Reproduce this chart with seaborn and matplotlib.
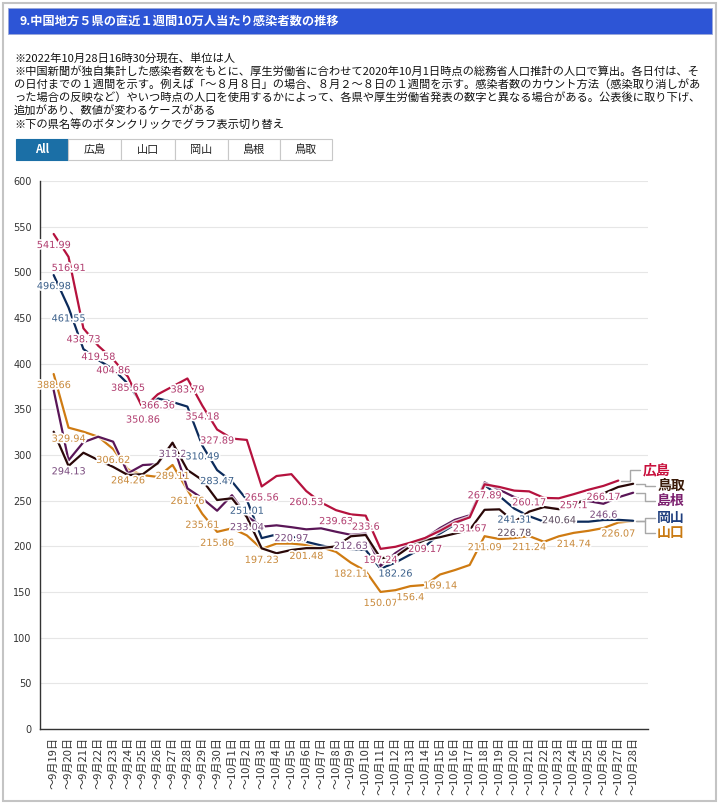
import numpy as np
import pandas as pd
import matplotlib
matplotlib.use("Agg")
import matplotlib.pyplot as plt
import matplotlib.patheffects as pe
from matplotlib.patches import Rectangle
from matplotlib.lines import Line2D
from matplotlib.transforms import IdentityTransform
import seaborn as sns

# ---------------- data ----------------
dates = ["～9月19日", "～9月20日", "～9月21日", "～9月22日", "～9月23日", "～9月24日",
         "～9月25日", "～9月26日", "～9月27日", "～9月28日", "～9月29日", "～9月30日",
         "～10月1日", "～10月2日", "～10月3日", "～10月4日", "～10月5日", "～10月6日",
         "～10月7日", "～10月8日", "～10月9日", "～10月10日", "～10月11日", "～10月12日",
         "～10月13日", "～10月14日", "～10月15日", "～10月16日", "～10月17日", "～10月18日",
         "～10月19日", "～10月20日", "～10月21日", "～10月22日", "～10月23日", "～10月24日",
         "～10月25日", "～10月26日", "～10月27日", "～10月28日"]

hiroshima = [541.99, 516.91, 438.73, 419.58, 404.86, 385.65, 350.86, 366.36, 375.0, 383.79,
             354.18, 327.89, 318.0, 316.5, 265.56, 277.0, 279.0, 260.53, 248.0, 239.63,
             235.0, 233.6, 197.24, 199.5, 204.0, 209.17, 217.0, 226.0, 231.67, 267.89,
             265.0, 261.0, 260.17, 253.0, 252.6, 257.1, 262.0, 266.17, 272.0, np.nan]
tottori = [325.5, 288.0, 302.5, 294.5, 287.0, 278.0, 279.0, 291.0, 313.5, 283.6,
           272.6, 250.7, 252.6, 232.0, 197.8, 192.4, 196.0, 198.0, 198.0, 200.0,
           211.0, 212.4, 187.0, 188.6, 200.0, 207.0, 210.0, 214.0, 218.0, 240.0,
           240.5, 226.78, 238.0, 243.0, 240.64, 246.0, 252.0, 258.0, 265.0, 268.5]
shimane = [371.0, 294.13, 314.0, 320.0, 314.6, 280.0, 289.0, 290.0, 313.2, 263.5,
           252.6, 239.0, 256.0, 233.04, 221.5, 223.0, 220.97, 218.6, 219.7, 216.0,
           212.63, 214.0, 178.5, 192.6, 203.0, 209.0, 220.0, 229.0, 234.0, 270.0,
           262.0, 254.0, 247.0, 243.0, 241.0, 249.0, 249.5, 246.6, 253.7, 258.7]
okayama = [496.98, 461.55, 416.0, 404.0, 394.0, 378.0, 354.0, 362.0, 358.0, 353.0,
           310.49, 283.47, 271.0, 251.01, 209.0, 213.0, 211.0, 205.0, 201.0, 198.0,
           197.0, 196.0, 175.5, 182.26, 191.0, 200.0, 214.0, 224.0, 233.0, 267.0,
           255.0, 241.31, 233.0, 227.0, 227.0, 227.0, 227.0, 228.8, 229.0, 228.0]
yamaguchi = [388.66, 329.94, 325.5, 320.0, 306.62, 284.26, 278.0, 276.0, 289.11, 261.76,
             235.61, 215.86, 219.7, 212.0, 197.23, 203.0, 203.0, 201.48, 199.0, 194.0,
             182.11, 173.0, 150.07, 152.0, 156.4, 157.7, 169.14, 174.0, 179.6, 211.09,
             208.0, 209.0, 211.24, 205.0, 211.0, 214.74, 217.0, 220.0, 226.07, 227.5]

prefs = ["広島", "鳥取", "島根", "岡山", "山口"]
series = {"広島": hiroshima, "鳥取": tottori, "島根": shimane, "岡山": okayama, "山口": yamaguchi}
label_idx = {
    "広島": [0, 1, 2, 3, 4, 5, 6, 7, 9, 10, 11, 14, 17, 19, 21, 22, 25, 28, 29, 32, 35, 37],
    "岡山": [0, 1, 10, 11, 13, 23, 31],
    "山口": [0, 1, 4, 5, 8, 9, 10, 11, 14, 17, 20, 22, 24, 26, 29, 32, 35, 38],
    "島根": [1, 8, 13, 16, 20, 37],
    "鳥取": [31, 34],
}
line_colors = {"広島": "#b5123e", "鳥取": "#2a0808", "島根": "#5a1657",
               "岡山": "#0c2b5b", "山口": "#cf7b12"}
label_colors = {"広島": "#b03c6e", "鳥取": "#5b4a5e", "島根": "#7a4b7e",
                "岡山": "#3a5f8a", "山口": "#c98a3c"}
name_colors = {"広島": "#c8103c", "鳥取": "#3a1a08", "島根": "#7b1f6e",
               "岡山": "#1f3f7f", "山口": "#c97a12"}
name_y = {"広島": 283.6, "鳥取": 266.0, "島根": 249.6, "岡山": 231.0, "山口": 214.6}

title = "9.中国地方５県の直近１週間10万人当たり感染者数の推移"
notes = ["※2022年10月28日16時30分現在、単位は人",
         "※中国新聞が独自集計した感染者数をもとに、厚生労働省に合わせて2020年10月1日時点の総務省人口推計の人口で算出。各日付は、そ",
         "の日付までの１週間を示す。例えば「～８月８日」の場合、８月２～８日の１週間を示す。感染者数のカウント方法（感染取り消しがあ",
         "った場合の反映など）やいつ時点の人口を使用するかによって、各県や厚生労働省発表の数字と異なる場合がある。公表後に取り下げ、",
         "追加があり、数値が変わるケースがある",
         "※下の県名等のボタンクリックでグラフ表示切り替え"]
buttons = ["All", "広島", "山口", "岡山", "島根", "鳥取"]

# ---------------- style ----------------
sns.set_theme(style="white")
plt.rcParams['font.family'] = ['DejaVu Sans', 'Noto Sans CJK JP']
CJK = ['Noto Sans CJK JP', 'DejaVu Sans']

W, H = 720, 805
fig = plt.figure(figsize=(W / 100, H / 100), dpi=100)
fig.patch.set_facecolor("white")

def fx(px):
    return px / W

def fy(py):
    return 1 - py / H

# outer frame
fig.add_artist(Rectangle((fx(3), fy(801)), 713 / W, 798 / H, transform=fig.transFigure,
                         facecolor="none", edgecolor="#c4c4c4", lw=1.5))
# header
fig.add_artist(Rectangle((fx(8), fy(34)), 704 / W, 26 / H, transform=fig.transFigure,
                         facecolor="#2d55d6", edgecolor="#9aa7d8", lw=0.6))
fig.text(fx(20), fy(21), title, color="white", fontsize=8.8, fontweight="bold",
         va="center", ha="left", family=CJK)

for ypx, line in zip([58, 71, 84, 97, 110, 124], notes):
    fig.text(fx(14), fy(ypx), line, fontsize=8.1, color="#111111", va="center",
             ha="left", family=CJK)

edges = [16, 68, 121, 175, 228, 280, 332]
for i, b in enumerate(buttons):
    x0, x1 = edges[i], edges[i + 1]
    active = (i == 0)
    fig.add_artist(Rectangle((fx(x0), fy(160)), (x1 - x0) / W, 21 / H,
                             transform=fig.transFigure,
                             facecolor="#1b6fa6" if active else "white",
                             edgecolor="#1b6fa6" if active else "#c8c8c8", lw=0.8))
    fig.text(fx((x0 + x1) / 2), fy(149.5), b, fontsize=8, ha="center", va="center",
             color="white" if active else "#222222",
             fontweight="bold" if active else "normal", family=CJK)

# ---------------- axes ----------------
ax = fig.add_axes([fx(40), fy(729), 608 / W, 548 / H])

df = pd.concat([pd.DataFrame({"idx": np.arange(len(dates)), "value": series[p], "pref": p})
                for p in prefs], ignore_index=True)
order = ["山口", "岡山", "島根", "鳥取", "広島"]
sns.lineplot(data=df, x="idx", y="value", hue="pref", hue_order=order,
             palette=line_colors, estimator=None, sort=False, legend=False,
             linewidth=1.6, ax=ax)
for ln in ax.lines:
    ln.set_path_effects([pe.Stroke(linewidth=3.4, foreground="white", alpha=0.75), pe.Normal()])
    ln.set_solid_joinstyle("round")

ax.set_xlim(-0.92, 40.0)
ax.set_ylim(0, 600)
ax.set_yticks(range(0, 601, 50))
ax.set_xticks(range(len(dates)))
ax.set_xticklabels(dates, rotation=90, fontsize=8, family=CJK, color="#333333")
ax.set_xlabel("")
ax.set_ylabel("")
ax.grid(axis="y", color="#e6e6e6", lw=0.8)
ax.grid(axis="x", visible=False)
ax.set_axisbelow(True)
for s in ["top", "right"]:
    ax.spines[s].set_visible(False)
for s in ["left", "bottom"]:
    ax.spines[s].set_color("#333333")
    ax.spines[s].set_linewidth(1.0)
ax.tick_params(axis="both", direction="out", length=4, width=0.8, color="#333333",
               labelcolor="#333333")
ax.tick_params(axis="y", labelsize=7, pad=2)
ax.tick_params(axis="x", pad=2)

# data labels
halo = [pe.withStroke(linewidth=2.5, foreground="white")]
for p in prefs:
    vals = series[p]
    for i in label_idx[p]:
        ax.annotate(f"{vals[i]:g}", (i, vals[i]), xytext=(0, -11), textcoords="offset pixels",
                    ha="center", va="center", fontsize=7, color=label_colors[p],
                    path_effects=halo, zorder=5)

# end-of-line names with leader lines
fig.canvas.draw()
to_px = ax.transData
for p in prefs:
    vals = np.array(series[p], dtype=float)
    last = int(np.where(~np.isnan(vals))[0][-1])
    ex, ey = to_px.transform((last, vals[last]))
    _, ly = to_px.transform((last, name_y[p]))
    xv = ex + 12
    xl = xv + 12
    fig.add_artist(Line2D([ex + 3, xv, xv, xl - 2], [ey, ey, ly, ly],
                          transform=IdentityTransform(), color="#a8a8a8", lw=1.0))
    fig.text(xl / W, ly / H, p, transform=fig.transFigure, fontsize=10,
             fontweight="bold", color=name_colors[p], ha="left", va="center", family=CJK)

fig.savefig("out.png", dpi=100)
